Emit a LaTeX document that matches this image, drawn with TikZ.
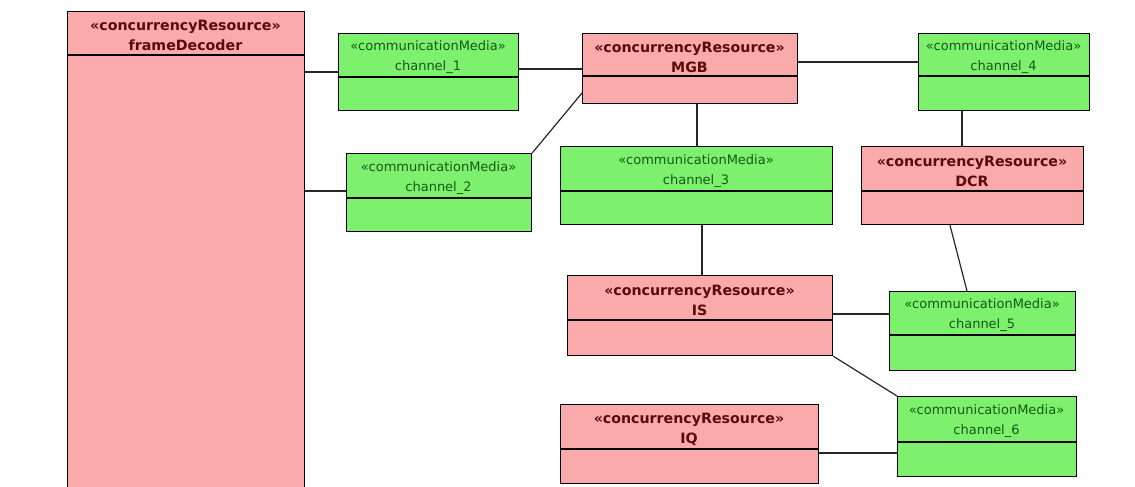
\documentclass[tikz,border=0pt]{standalone}
\usepackage{fontspec}
\setmainfont{DejaVu Sans}
\definecolor{pinkfill}{RGB}{250,170,170}
\definecolor{greenfill}{RGB}{125,240,110}
\definecolor{redtext}{RGB}{90,10,10}
\definecolor{greentext}{RGB}{20,90,20}
\tikzset{
  line/.style={draw=black, line width=1.2pt},
  conn/.style={draw=black!85, line width=1.2pt},
  res/.style={rectangle, draw=black, line width=1.2pt, fill=pinkfill, inner sep=0pt},
  med/.style={rectangle, draw=black, line width=1.2pt, fill=greenfill, inner sep=0pt},
  restext/.style={align=center, inner sep=0pt, text=redtext, font=\fontsize{14.2}{20}\selectfont\bfseries},
  medtext/.style={align=center, inner sep=0pt, text=greentext, font=\fontsize{13}{20}\selectfont},
}
\newcommand{\umlbox}[8]{%
  \node[#2, anchor=north west, minimum width={#5-#3}, minimum height={#6-#4}] (#1) at (#3,#4) {};
  \draw[line] (#1.west |- 0,#7) -- (#1.east |- 0,#7);
  \node[#2text] (#1-t) at ({(#3+#5)/2},{(#4+#7)/2+2.5}) {#8};
}
\begin{document}
\begin{tikzpicture}[x=1pt,y=-1pt]
\useasboundingbox (0,0) rectangle (1135,487);
\umlbox{fd}{res}{67}{11}{304}{500}{55}{«concurrencyResource»\\frameDecoder}
\umlbox{chA}{med}{338}{33}{518}{110}{77}{«communicationMedia»\\channel\_1}
\umlbox{mgb}{res}{582}{33}{797}{103}{76}{«concurrencyResource»\\MGB}
\umlbox{chD}{med}{918}{33}{1089}{110}{76}{«communicationMedia»\\channel\_4}
\umlbox{chB}{med}{346}{153}{531}{231}{198}{«communicationMedia»\\channel\_2}
\umlbox{chC}{med}{560}{146}{832}{224}{191}{«communicationMedia»\\channel\_3}
\umlbox{dcr}{res}{861}{146}{1083}{224}{191}{«concurrencyResource»\\DCR}
\umlbox{is}{res}{567}{275}{832}{355}{320}{«concurrencyResource»\\IS}
\umlbox{chE}{med}{889}{291}{1075}{370}{335}{«communicationMedia»\\channel\_5}
\umlbox{iq}{res}{560}{404}{818}{483}{449}{«concurrencyResource»\\IQ}
\umlbox{chF}{med}{897}{396}{1076}{476}{442}{«communicationMedia»\\channel\_6}
% connectors
\draw[conn] (fd.east |- 0,72) -- (chA.west |- 0,72);
\draw[conn] (fd.east |- 0,191) -- (chB.west |- 0,191);
\draw[conn] (chA.east |- 0,69) -- (mgb.west |- 0,69);
\draw[conn] (mgb.east |- 0,62) -- (chD.west |- 0,62);
\draw[conn] (chB.north east) -- (mgb.west |- 0,93);
\draw[conn] (697,0 |- mgb.south) -- (697,0 |- chC.north);
\draw[conn] (962,0 |- chD.south) -- (962,0 |- dcr.north);
\draw[conn] (702,0 |- chC.south) -- (702,0 |- is.north);
\draw[conn] (950,0 |- dcr.south) -- (967,0 |- chE.north);
\draw[conn] (is.east |- 0,314) -- (chE.west |- 0,314);
\draw[conn] (is.south east) -- (chF.north west);
\draw[conn] (iq.east |- 0,453) -- (chF.west |- 0,453);
\end{tikzpicture}
\end{document}
